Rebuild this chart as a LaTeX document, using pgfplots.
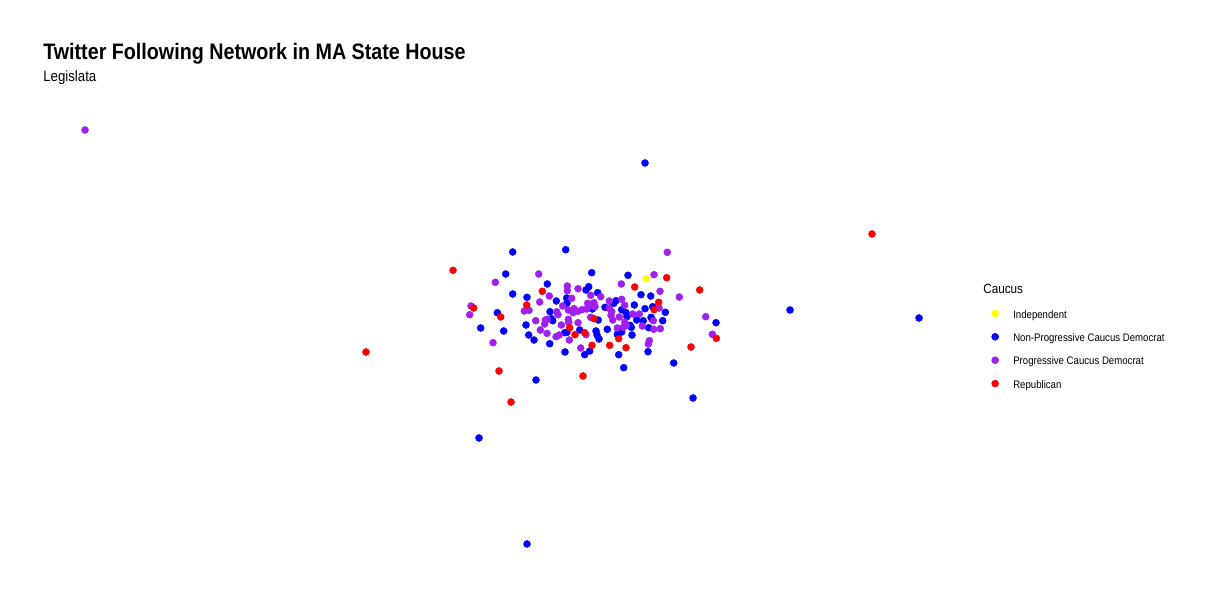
\documentclass[border=0pt]{standalone}
\usepackage{pgfplots}
\pgfplotsset{compat=1.18}
\usepackage{pgfplotstable}
\usepackage{fontspec}
\setmainfont[FakeStretch=0.88]{Liberation Sans}
\definecolor{rpurple}{HTML}{A020F0}
\definecolor{ryellow}{HTML}{FFFF00}

\pgfplotstableread{
x y
646.3 278.7
}\indep

\pgfplotstableread{
x y
512.7 252
565.7 249.7
505.7 274
547.3 284
586 290
588.7 286.7
512.7 294
527 297.3
556.3 301
566.7 298
567 303.3
497.3 312.7
550 311.7
551.3 318.7
552.7 320.7
480.7 328
503.7 331
526 325
579.7 330
564.7 332.7
567 332.3
528.7 335
534 340
549.7 343.7
565 352
584.7 354.7
591.7 272.7
597.7 292.7
592.3 309
598.3 320
596 331
597 335
599 339
589.7 351
628 275.3
641 294.7
650.7 296
613.7 303.3
616 300.7
634.3 305
652.7 306.7
645 308.7
605 307.3
621.7 309.7
626 312.7
627 316.7
665.3 312.3
716 322.7
636.7 320
643.3 320.7
651 317.3
652 319.3
662.7 320.7
630 325.3
631.3 327.3
607.3 329.3
648.7 327.7
621.7 332
617.3 334.3
632 335
648 351.7
618.7 354.7
673.7 363
623.7 367.7
645 163
790 310
919 318
536 380
693 398
479 438
527 544
}\nonprog

\pgfplotstableread{
x y
538.7 274
495.3 282.3
567.3 286
567.3 290.7
578 288.7
549.3 296
571.7 298.3
539.7 302
562.7 306
587.7 303.3
588 307.3
471 306
469.7 314.7
524.3 311
529 310.3
556.7 311.7
558 314.7
568.3 310
574 308.7
577.7 311.3
582 309.7
586.7 309
573 312.7
535.7 320.7
545.3 320
547.3 319.3
568.3 319.3
568.7 322.7
578 322.7
544.7 324
561.3 325
540.3 330
547 333.3
556 336.7
559.3 335
569.3 340
493 342.7
580.7 348
586 334.7
590.7 295.3
594 302.7
595 306.7
590.7 317.3
667.3 252.3
654 274.7
621.3 284
660 291.3
600.7 296.7
679.3 297
609.3 301
621.7 299.3
624.7 305.3
659 308
609.3 308.3
611.7 311.7
632.7 314
639.3 314
705.7 316.7
611 315.3
612.7 320
619.3 317
653.3 320.7
624.7 322
626.3 325.3
623.3 327.3
617.3 328
642.3 326
653.7 329.3
660.3 328.7
649.3 340.7
648.3 344
712.3 334.3
85 130
}\prog

\pgfplotstableread{
x y
453 270.3
542.3 291.3
526.7 305
473.7 308
500.7 317
569.7 327.7
575 334.7
584.7 332.7
594 318.7
592 345.3
666.7 277.7
634.7 287
699.7 290
658.7 302.3
654 309.7
618.7 338.7
716.3 338.3
609.7 345.3
626 347.7
691 347
872 234
366 352
583 376
499 371
511 402
}\repub

\begin{document}
\begin{tikzpicture}
\useasboundingbox (0,0) rectangle (909pt,456.75pt);
\begin{axis}[
  scale only axis, width=909pt, height=456.75pt,
  xmin=0, xmax=1212, ymin=0, ymax=609, y dir=reverse,
  hide axis, clip=false,
  legend cell align=left,
  legend image code/.code={\draw[#1] plot coordinates {(0pt,1.5pt)};},
  legend style={draw=none, fill=none, at={(axis cs:987.4,307)}, anchor=north west,
    font=\fontsize{8.2}{9.5}\selectfont,
    nodes={inner sep=0pt, text height=6pt, text depth=2pt},
    row sep=9.45pt,
    /tikz/every odd column/.style={column sep=11pt}},
]
\addplot[only marks, mark=*, mark size=2.6pt, color=ryellow, mark options={draw=none, fill=ryellow}] table {\indep};
\addlegendentry{Independent}
\addplot[only marks, mark=*, mark size=2.6pt, color=blue, mark options={draw=none, fill=blue}] table {\nonprog};
\addlegendentry{Non-Progressive Caucus Democrat}
\addplot[only marks, mark=*, mark size=2.6pt, color=rpurple, mark options={draw=none, fill=rpurple}] table {\prog};
\addlegendentry{Progressive Caucus Democrat}
\addplot[only marks, mark=*, mark size=2.6pt, color=red, mark options={draw=none, fill=red}] table {\repub};
\addlegendentry{Republican}
\node[anchor=base west, inner sep=0pt, font=\bfseries\fontsize{16.8}{20}\selectfont] at (axis cs:43,59.3) {Twitter Following Network in MA State House};
\node[anchor=base west, inner sep=0pt, font=\fontsize{11.3}{13}\selectfont] at (axis cs:43,82) {Legislata};
\node[anchor=base west, inner sep=0pt, font=\fontsize{10}{12}\selectfont] at (axis cs:983,294) {Caucus};
\end{axis}
\end{tikzpicture}
\end{document}
